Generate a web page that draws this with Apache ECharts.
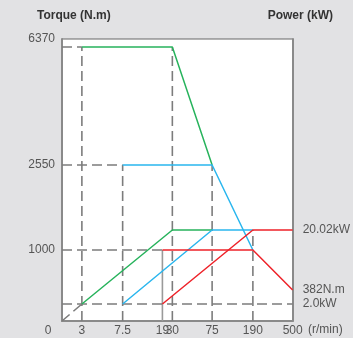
<!DOCTYPE html>
<html><head><meta charset="utf-8">
<script src="https://cdn.jsdelivr.net/npm/echarts@6/dist/echarts.min.js"></script>
<style>html,body{margin:0;padding:0;background:#e2e2e4}#c{width:353px;height:338px}</style>
</head><body><div id="c"></div><script>
// ---- data ----
const speedTicks = [0, 3, 7.5, 19, 30, 75, 190, 500];      // r/min
const torqueTicks = [0, 1000, 2550, 6370];                 // N.m
const rightLabels = [[20.02, 'kW'], [382, 'N.m'], [2.0, 'kW']];
// curves: [speed, torque N.m] and [speed, power kW]
const greenTorque = [[3, 6370], [30, 6370], [75, 2550]];
const greenPower  = [[3, 2.0], [30, 20.02], [75, 20.02]];
const blueTorque  = [[7.5, 2550], [75, 2550], [190, 1000]];
const bluePower   = [[7.5, 2.0], [75, 20.02], [190, 20.02]];
const redTorque   = [[19, 1000], [190, 1000], [500, 382]];
const redPower    = [[19, 2.0], [190, 20.02], [500, 20.02]];

// ---- schematic (non-linear) scale layout ----
const X_POS = [0, 20, 61, 101, 111, 151, 192, 232];
const T_VAL = [0, 382, 1000, 2550, 6370], T_POS = [0, 31, 71, 156, 274];
const P_VAL = [0, 2.0, 20.02], P_POS = [0, 17, 91];
const X_MAX = 232, Y_MAX = 282;
function interp(v, vals, pos) {
  for (let i = 1; i < vals.length; i++) {
    if (v <= vals[i]) return pos[i-1] + (v - vals[i-1]) / (vals[i] - vals[i-1]) * (pos[i] - pos[i-1]);
  }
  return pos[pos.length-1];
}
const sx = s => interp(s, speedTicks, X_POS);
const st = t => interp(t, T_VAL, T_POS);
const sp = p => interp(p, P_VAL, P_POS);
const tq = arr => arr.map(d => [sx(d[0]), st(d[1])]);
const pw = arr => arr.map(d => [sx(d[0]), sp(d[1])]);

const GREEN = '#27b35c', BLUE = '#2ab6ee', RED = '#ee2229', GUIDE = '#7c7c7c';
function colored(data, color) {
  return { type: 'line', data, showSymbol: false, symbol: 'none', z: 5,
    lineStyle: { color, width: 1.5 }, animation: false };
}
function guide(data, solid) {
  return { type: 'line', data, symbol: 'none', z: 2, animation: false,
    lineStyle: { color: solid ? '#9a9a9a' : GUIDE, width: 1.6, type: solid ? 'solid' : [10, 5] } };
}
const curves = [[greenTorque, greenPower], [blueTorque, bluePower], [redTorque, redPower]];
const guides = [];
curves.forEach(([T, P], i) => {
  const s0 = T[0][0], t0 = T[0][1];
  guides.push(guide([[0, st(t0)], [sx(s0), st(t0)]]));
  guides.push(guide([[sx(s0), 0], [sx(s0), st(t0)]], i === 2));
  const k = T[1][0];
  guides.push(guide([[sx(k), 0], [sx(k), Math.max(st(T[1][1]), sp(P[1][1]))]]));
});
guides.push(guide([[0, sp(greenPower[0][1])], [X_MAX, sp(greenPower[0][1])]]));
guides.push(guide([[0, 0], [sx(greenPower[0][0]), sp(greenPower[0][1])]]));

const leftVals = torqueTicks.map((t, i) => i === torqueTicks.length - 1 ? Y_MAX : st(t));
const rightVals = rightLabels.map(d => d[1] === 'kW' ? sp(d[0]) : st(d[0]));
const near = (a, b) => Math.abs(a - b) < 0.01;

const chart = echarts.init(document.getElementById('c'));
chart.setOption({
  animation: false,
  backgroundColor: '#e2e2e4',
  grid: { left: 62, right: 59, top: 39, bottom: 17, show: true, backgroundColor: '#fff',
          borderColor: '#666', borderWidth: 1 },
  xAxis: { type: 'value', min: 0, max: X_MAX,
    axisLine: { show: true, onZero: false, lineStyle: { color: '#8a8a8a', width: 2 } },
    axisTick: { show: false }, splitLine: { show: false },
    axisLabel: { customValues: speedTicks.map(sx), color: '#555', fontSize: 12, margin: 4,
      fontFamily: 'Liberation Sans',
      formatter: v => { const i = X_POS.findIndex(p => near(p, v)); const s = String(speedTicks[i]);
        return i === 0 ? '{o|' + s + '}' : s; },
      rich: { o: { padding: [0, 28, 0, 0], color: '#555', fontSize: 12, fontFamily: 'Liberation Sans' } } } },
  yAxis: [
    { type: 'value', min: 0, max: Y_MAX, position: 'left',
      axisLine: { show: true, onZero: false, lineStyle: { color: '#8a8a8a', width: 2 } },
      axisTick: { show: false }, splitLine: { show: false },
      axisLabel: { customValues: leftVals.slice(1), color: '#555', fontSize: 12, margin: 7,
        fontFamily: 'Liberation Sans',
        formatter: v => String(torqueTicks[leftVals.findIndex(p => near(p, v))]) } },
    { type: 'value', min: 0, max: Y_MAX, position: 'right',
      axisLine: { show: true, onZero: false, lineStyle: { color: '#8a8a8a', width: 2 } },
      axisTick: { show: false }, splitLine: { show: false },
      axisLabel: { customValues: rightVals, color: '#555', fontSize: 12, margin: 10,
        fontFamily: 'Liberation Sans',
        formatter: v => { const d = rightLabels[rightVals.findIndex(p => near(p, v))];
          return (d[1] === 'kW' ? String(d[0].toFixed(d[0] % 1 ? 2 : 1)).replace(/\.?$/, '') : d[0]) + d[1]; } } }
  ],
  graphic: [
    { type: 'text', left: 37, top: 10, style: { text: 'Torque (N.m)', fill: '#333', font: 'bold 12px "Liberation Sans"' } },
    { type: 'text', right: 20, top: 10, style: { text: 'Power (kW)', fill: '#333', font: 'bold 12px "Liberation Sans"' } },
    { type: 'text', left: 308, top: 324, style: { text: '(r/min)', fill: '#555', font: '12px "Liberation Sans"' } }
  ],
  series: [
    ...guides,
    colored(tq(greenTorque), GREEN), colored(pw(greenPower), GREEN),
    colored(tq(blueTorque), BLUE), colored(pw(bluePower), BLUE),
    colored(tq(redTorque), RED), colored(pw(redPower), RED)
  ]
});
</script></body></html>
